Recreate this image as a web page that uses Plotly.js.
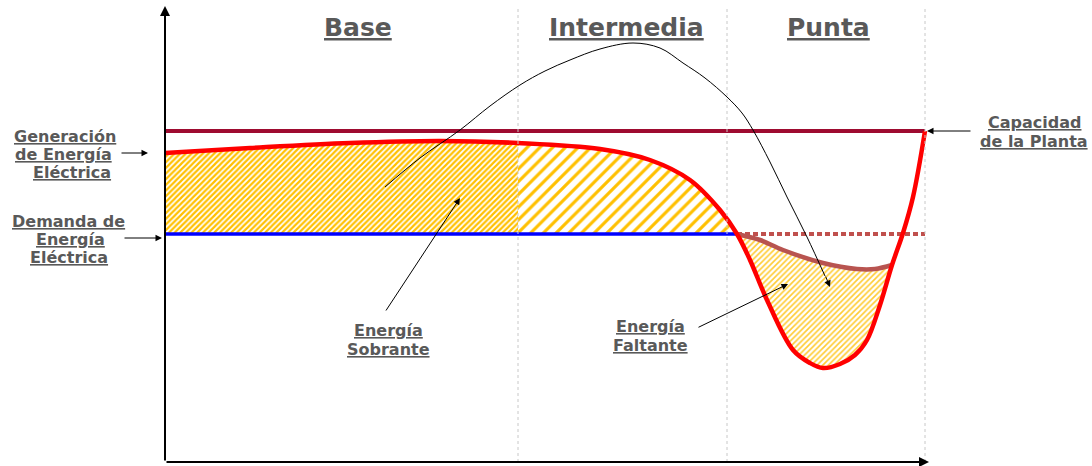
<!DOCTYPE html>
<html>
<head>
<meta charset="utf-8">
<script src="https://cdn.plot.ly/plotly-3.0.1.min.js"></script>
<style>html,body{margin:0;padding:0;background:#fff;}#chart{width:1092px;height:466px;}</style>
</head>
<body>
<div id="chart"></div>
<script>
// Schematic data (time on x, power on y)
const genX = [0, 85, 185, 275, 353, 435, 485, 525, 555, 572, 585, 602, 628, 645, 658, 675, 690, 702, 715, 727, 738, 748, 760];
const genY = [309, 314, 319, 321, 319, 313, 302, 282, 252, 228, 202, 162, 112, 99, 94, 98, 107, 122, 157, 197, 229, 265, 331];
const demandLevel = 228;
const capacityLevel = 331;
const demandEndX = 572;
const xEnd = 760;
const brownX = [572, 595, 618, 658, 692, 710, 727];
const brownY = [228, 222, 212, 199, 193, 193, 197];
const arcX = [220, 255, 295, 325, 355, 380, 405, 435, 468, 495, 518, 540, 562, 577, 588, 605, 622, 642, 660];
const arcY = [275, 304, 332, 356, 377, 391, 402, 413, 419, 414, 399, 384, 365, 349, 332, 300, 265, 225, 186];
const dividers = [353, 562, 760];
const periods = ["Base", "Intermedia", "Punta"];
const periodX = [193, 461, 663];

const baseEnd = dividers[0];
function seg(x0, x1) {
  const xs = [], ys = [];
  for (let i = 0; i < genX.length; i++) if (genX[i] >= x0 && genX[i] <= x1) { xs.push(genX[i]); ys.push(genY[i]); }
  return {xs, ys};
}
const s1 = seg(0, baseEnd), s2 = seg(baseEnd, demandEndX), s3 = seg(demandEndX, brownX[brownX.length-1]);

const traces = [
  {x: [0, baseEnd], y: [demandLevel, demandLevel], mode: 'lines', line: {width: 0}, hoverinfo: 'skip'},
  {x: s1.xs, y: s1.ys, mode: 'lines', line: {width: 0, shape: 'spline'}, fill: 'tonexty', fillcolor: 'rgba(0,0,0,0)',
   fillpattern: {shape: '/', fgcolor: '#ffc000', bgcolor: '#ffffff', size: 4, solidity: 0.55}, hoverinfo: 'skip'},
  {x: [baseEnd, demandEndX], y: [demandLevel, demandLevel], mode: 'lines', line: {width: 0}, hoverinfo: 'skip'},
  {x: s2.xs, y: s2.ys, mode: 'lines', line: {width: 0, shape: 'spline'}, fill: 'tonexty', fillcolor: 'rgba(0,0,0,0)',
   fillpattern: {shape: '/', fgcolor: '#ffc000', bgcolor: '#ffffff', size: 9, solidity: 0.35}, hoverinfo: 'skip'},
  {x: s3.xs, y: s3.ys, mode: 'lines', line: {width: 0, shape: 'spline'}, hoverinfo: 'skip'},
  {x: brownX, y: brownY, mode: 'lines', line: {width: 0, shape: 'spline'}, fill: 'tonexty', fillcolor: 'rgba(0,0,0,0)',
   fillpattern: {shape: '/', fgcolor: '#ffcc33', bgcolor: '#ffffff', size: 4, solidity: 0.4}, hoverinfo: 'skip'},
  // capacity
  {x: [0, xEnd], y: [capacityLevel, capacityLevel], mode: 'lines', line: {color: '#9e0b30', width: 4}, hoverinfo: 'skip'},
  // demand
  {x: [0, demandEndX], y: [demandLevel, demandLevel], mode: 'lines', line: {color: '#0000ff', width: 3.5}, hoverinfo: 'skip'},
  {x: [demandEndX, xEnd], y: [demandLevel, demandLevel], mode: 'lines', line: {color: '#c0504d', width: 4, dash: '5px,3px'}, hoverinfo: 'skip'},
  // brown demand curve in peak
  {x: brownX, y: brownY, mode: 'lines', line: {color: '#b85450', width: 4.5, shape: 'spline'}, hoverinfo: 'skip'},
  // generation
  {x: genX, y: genY, mode: 'lines', line: {color: '#ff0000', width: 4.5, shape: 'spline'}, hoverinfo: 'skip'},
  // arc arrow
  {x: arcX, y: arcY, mode: 'lines', line: {color: '#000000', width: 1, shape: 'spline', smoothing: 1}, hoverinfo: 'skip'}
];

const txtFont = {family: 'DejaVu Sans, Verdana, sans-serif', size: 16, color: '#595959'};
const ann = [];
function line(x, y, text, size) {
  ann.push({x, y, xref: 'x', yref: 'y', text: '<b><u>' + text + '</u></b>', showarrow: false,
    font: Object.assign({}, txtFont, size ? {size} : {}), xanchor: 'center', yanchor: 'middle'});
}
function arrow(x, y, ax, ay, w, s) {
  ann.push({x, y, ax, ay, xref: 'x', yref: 'y', axref: 'x', ayref: 'y', text: '', showarrow: true,
    arrowhead: 2, arrowsize: s || 1.3, arrowwidth: w || 1, arrowcolor: '#000'});
}
periods.forEach((p, i) => line(periodX[i], 435, p, 25));
line(-100, 326, 'Generación'); line(-102, 308, 'de Energía'); line(-93, 290, 'Eléctrica');
line(-97, 241, 'Demanda de'); line(-95, 223, 'Energía'); line(-96, 205, 'Eléctrica');
line(869, 340, 'Capacidad'); line(869, 321, 'de la Planta');
line(223, 132, 'Energía'); line(223, 113, 'Sobrante');
line(485, 136, 'Energía'); line(485, 117, 'Faltante');
arrow(-17, 309, -45, 309);
arrow(-3, 224, -42, 224);
arrow(762, 331, 807, 331);
arrow(295, 264, 220, 150);
arrow(623, 178, 532, 134);
arrow(665, 175, 660, 187);
arrow(0, 456, 0, 0, 2, 1);
arrow(764, 0, 0, 0, 2, 1);

const shapes = dividers.map(d => ({type: 'line', xref: 'x', yref: 'y', x0: d, x1: d, y0: 0, y1: 454,
  line: {color: '#c8c8c8', width: 1, dash: 'dot'}}));

Plotly.newPlot('chart', traces, {
  width: 1092, height: 466, margin: {l: 0, r: 0, t: 0, b: 0},
  paper_bgcolor: '#fff', plot_bgcolor: '#fff', showlegend: false,
  xaxis: {range: [-165, 927], visible: false, fixedrange: true},
  yaxis: {range: [-4, 462], visible: false, fixedrange: true},
  annotations: ann, shapes: shapes
}, {staticPlot: true});
</script>
</body>
</html>
